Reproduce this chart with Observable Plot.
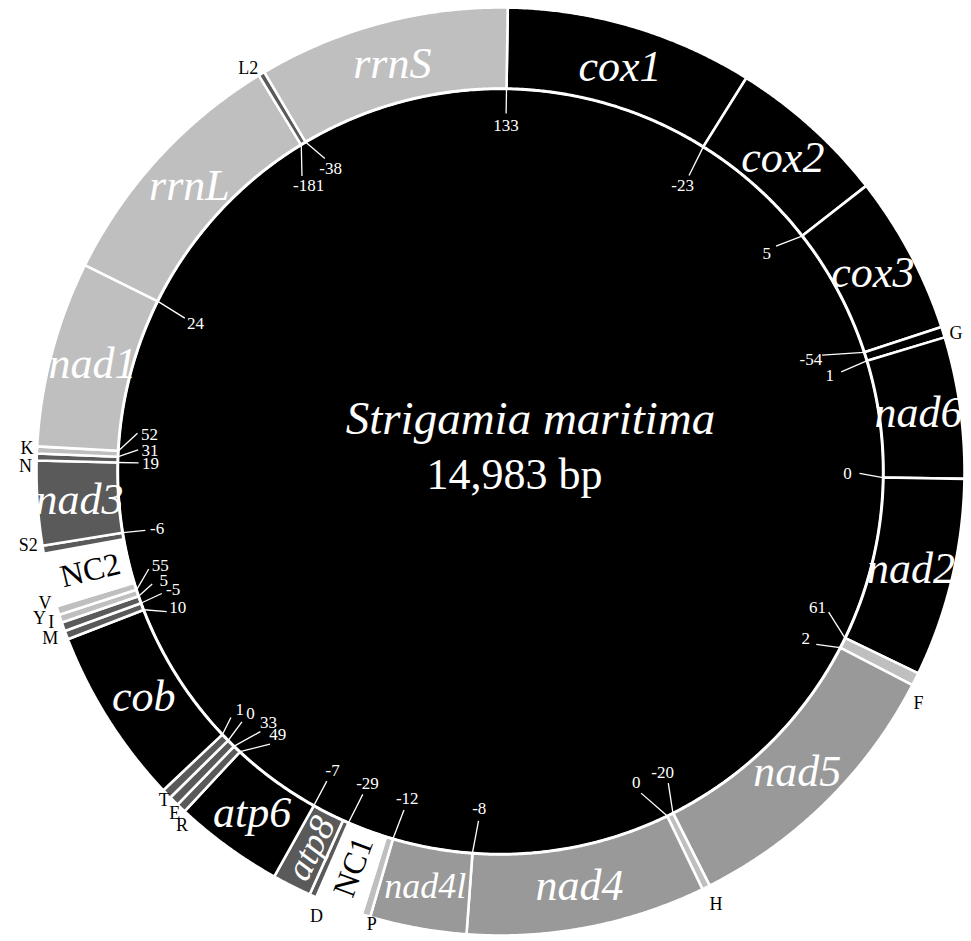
<!DOCTYPE html>
<html><head><meta charset="utf-8">
<script src="https://cdn.jsdelivr.net/npm/d3@7"></script>
<script src="https://cdn.jsdelivr.net/npm/@observablehq/plot@0.6"></script>
<style>body{margin:0;background:#fff}#chart svg{display:block}</style>
</head><body><div id="chart"></div>
<script>
// ---------------- DATA ----------------
const genomeLength = 14983;
const speciesName = "Strigamia maritima";
const sizeLabel = "14,983 bp";

const geneNames  = ["cox1","cox2","cox3","G","nad6","nad2","F","nad5","H","nad4","nad4l","P","NC1","D","atp8","atp6","R","E","T","cob","M","I","Y","V","NC2","S2","nad3","N","K","nad1","rrnL","L2","rrnS"];
const geneStarts = [0,1294,2127,2953,3009,3746,4782,4849,6339,6380,7629,8133,8178,8428,8465,8669,9240,9290,9342,9394,10318,10363,10409,10451,10497,10775,10817,11256,11292,11329,12299,13639,13672];
const geneEnds   = [1294,2127,2953,3009,3746,4782,4849,6339,6380,7629,8133,8178,8428,8465,8669,9240,9290,9342,9394,10318,10363,10409,10451,10497,10775,10817,11256,11292,11329,12299,13639,13672,14983];
const geneTypes  = ["pcg","pcg","pcg","trna","pcg","pcg","trna","pcg","trna","pcg","pcg","trna","nc","trna","pcg","pcg","trna","trna","trna","pcg","trna","trna","trna","trna","nc","trna","pcg","trna","trna","pcg","rrna","trna","rrna"];
const geneShades = ["black","black","black","black","black","black","light","mid","light","mid","mid","light","none","dark","dark","black","dark","dark","dark","black","dark","dark","light","light","none","dark","dark","dark","light","light","light","dark","light"];

// intergenic spacer / overlap values and the junction (bp) they refer to
const spacerValues    = [133,-23,5,-54,1,0,61,2,-20,0,-8,-12,-29,-7,49,33,0,1,10,-5,5,55,-6,19,31,52,24,-181,-38];
const spacerPositions = [0,1294,2127,2953,3009,3746,4782,4849,6339,6380,7629,8133,8428,8669,9240,9290,9342,9394,10318,10363,10409,10451,10817,11256,11292,11329,12299,13639,13672];

// ---------------- LAYOUT / STYLE ----------------
const startAngle = 0.9;           // degrees: where position 0 sits
const R_OUT = 464, R_IN = 383, R_LINE = 382.5;
const shadeColor = {black:"#000000", light:"#bfbfbf", mid:"#999999", dark:"#5a5a5a", none:"#ffffff"};
const serif = "'Liberation Serif','Times New Roman',Times,serif";
// label placement nudges: [angle offset (deg), radius]
const spacerLayout = [[0,346],[0.5,339],[-1.3,344],[-1.75,330],[0.5,343],[-0.6,347],[-2.6,345],[1.3,348],[-1.5,342],[2.2,339],[-0.6,338],[-0.4,340],[-0.3,339],[0.1,343],[-2.7,345],[-1.4,342],[0.55,348],[1.0,353],[-1.6,350],[0.3,348],[1.1,354],[2.5,353],[-0.2,348],[0,350],[1.2,351],[2.9,353],[-0.5,339],[-2.5,344],[1.3,347]];
const trnaLayout = {G:[0.6,476],F:[2.4,478],H:[-0.2,483],P:[-1.0,471],D:[-1.35,481],R:[-1.5,476],E:[-1.1,472],T:[-0.3,470],M:[0.35,480],I:[0.95,474],Y:[0.8,484],V:[1.35,474],S2:[0.8,478],N:[-1.2,475],K:[0.15,474],L2:[-1,476]};
const geneFont = {nad4l:36, atp8:37, NC1:32, NC2:32};
const radialLabels = new Set(["NC1","NC2","atp8"]);

// ---------------- GEOMETRY ----------------
const ang = bp => startAngle + 360 * bp / genomeLength;
const rad = d => d * Math.PI / 180;
const polar = (a, r) => ({x: r * Math.sin(rad(a)), y: r * Math.cos(rad(a))});

function arcPolygon(a0, a1, r0, r1, name, fill) {
  const n = Math.max(2, Math.ceil((a1 - a0) / 0.25));
  const pts = [];
  for (let i = 0; i <= n; i++) pts.push({...polar(a0 + (a1 - a0) * i / n, r1), name, fill});
  for (let i = n; i >= 0; i--) pts.push({...polar(a0 + (a1 - a0) * i / n, r0), name, fill});
  return pts;
}
const circle = (r, name) => d3.range(0, 360, 0.5).map(a => ({...polar(a, r), name}));

const genePts = geneNames.flatMap((g, i) =>
  arcPolygon(ang(geneStarts[i]), ang(geneEnds[i]), R_IN, R_OUT, g, shadeColor[geneShades[i]]));

const geneLabels = geneNames.map((g, i) => {
  const a = (ang(geneStarts[i]) + ang(geneEnds[i])) / 2;
  return {name: g, type: geneTypes[i], a, ...polar(a, 422),
          rotate: radialLabels.has(g) ? a - 270 : 0,
          size: geneFont[g] || 44};
}).filter(d => d.type !== "trna");

const trnaLabels = geneNames.map((g, i) => {
  if (geneTypes[i] !== "trna") return null;
  const a = (ang(geneStarts[i]) + ang(geneEnds[i])) / 2 + trnaLayout[g][0];
  return {name: g, ...polar(a, trnaLayout[g][1])};
}).filter(Boolean);

const spacers = spacerValues.map((v, i) => {
  const a0 = ang(spacerPositions[i]);
  const [da, r] = spacerLayout[i];
  const p0 = polar(a0, R_LINE), p1 = polar(a0 + da, r + 12), pl = polar(a0 + da, r);
  return {label: String(v), x1: p0.x, y1: p0.y, x2: p1.x, y2: p1.y, x: pl.x, y: pl.y};
});

const titleRows = [{x: 30, y: 53, text: speciesName}];
const sizeRows = [{x: 14, y: -3, text: sizeLabel}];

// ---------------- PLOT ----------------
const chart = Plot.plot({
  width: 971, height: 941,
  margin: 0,
  x: {domain: [-500, 471], axis: null},
  y: {domain: [-470, 471], axis: null},
  color: {type: "identity"},
  style: {background: "#ffffff"},
  marks: [
    Plot.line(circle(R_IN, "disk"), {x: "x", y: "y", z: "name", fill: "#000", stroke: "none", curve: "linear-closed"}),
    Plot.line(genePts, {x: "x", y: "y", z: "name", fill: "fill", stroke: "#ffffff", strokeWidth: 2.6, curve: "linear-closed"}),
    Plot.line(circle(R_LINE, "ring"), {x: "x", y: "y", z: "name", stroke: "#ffffff", strokeWidth: 2.4, curve: "linear-closed"}),
    Plot.link(spacers, {x1: "x1", y1: "y1", x2: "x2", y2: "y2", stroke: "#ffffff", strokeWidth: 1.3}),
    Plot.text(spacers, {x: "x", y: "y", text: "label", fill: "#ffffff", fontSize: 17, fontFamily: serif}),
    Plot.text(geneLabels.filter(d => d.type !== "nc"), {x: "x", y: "y", text: "name", rotate: "rotate", fontSize: d => d.size, fill: "#ffffff", fontStyle: "italic", fontFamily: serif}),
    Plot.text(geneLabels.filter(d => d.type === "nc"), {x: "x", y: "y", text: "name", rotate: "rotate", fontSize: d => d.size, fill: "#000000", fontFamily: serif}),
    Plot.text(trnaLabels, {x: "x", y: "y", text: "name", fill: "#000000", fontSize: 18, fontFamily: serif}),
    Plot.text(titleRows, {x: "x", y: "y", text: "text", fill: "#ffffff", fontSize: 47, fontStyle: "italic", fontFamily: serif}),
    Plot.text(sizeRows, {x: "x", y: "y", text: "text", fill: "#ffffff", fontSize: 44, fontFamily: serif})
  ]
});
document.getElementById("chart").appendChild(chart);
</script>
</body></html>
